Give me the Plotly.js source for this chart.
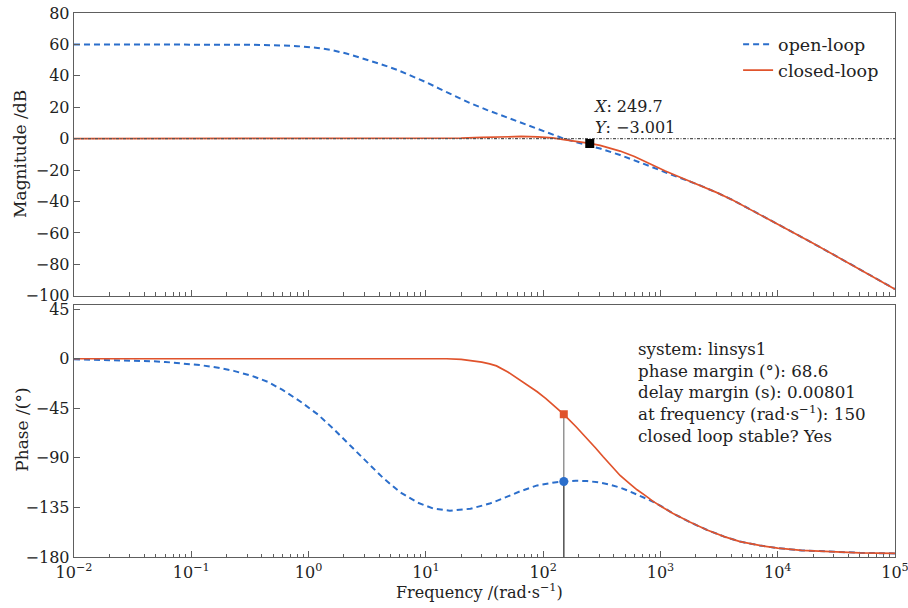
<!DOCTYPE html>
<html>
<head>
<meta charset="utf-8">
<script src="https://cdn.plot.ly/plotly-3.0.1.min.js"></script>
<style>
  html, body { margin: 0; padding: 0; background: #fff; }
  #chart { width: 908px; height: 608px; }
</style>
</head>
<body>
<div id="chart"></div>
<script>
// Open-loop magnitude (dB)
const openMagFreq = [0.01, 0.1, 0.3, 0.5, 0.8, 1.15, 1.53, 2.1, 2.93, 4, 5.7, 7.5, 10, 13, 17.1, 24, 33.4, 45, 63.8, 88, 122, 150, 200, 237, 306, 453, 600, 817, 1100, 1472, 2150, 3000, 4160, 6000, 10000, 20000, 40000, 100000];
const openMag = [60, 60, 59.8, 59.5, 58.9, 57.9, 56.6, 54.2, 51.0, 47.8, 43.8, 40.1, 36.0, 31.9, 27.5, 22.5, 18.2, 14.6, 10.6, 6.8, 2.6, 0, -2.6, -4.0, -6.3, -10.4, -13.6, -17.6, -21.4, -24.8, -29.6, -34.2, -39.2, -45.5, -54.3, -66.6, -79.1, -95.8];

// Closed-loop magnitude (dB)
const closedMagFreq = [0.01, 1, 10, 20, 30, 45, 65, 90, 120, 150, 200, 249.7, 306, 453, 600, 817, 1100, 1472, 2150, 3000, 4160, 6000, 10000, 20000, 40000, 100000];
const closedMag = [0, 0, 0.1, 0.4, 0.8, 1.2, 1.4, 1.2, 0.5, -0.6, -1.8, -3.001, -4.3, -7.9, -11.3, -16.2, -20.6, -24.6, -29.6, -34.2, -39.2, -45.5, -54.3, -66.6, -79.1, -95.8];

// Open-loop phase (deg)
const openPhFreq = [0.01, 0.02, 0.03, 0.045, 0.06, 0.09, 0.12, 0.17, 0.23, 0.33, 0.45, 0.6, 0.85, 1.2, 1.6, 2.3, 3.2, 4.3, 6, 8.5, 11.6, 16, 24, 35, 45, 63.8, 89, 120, 150, 190, 237, 300, 370, 453, 550, 650, 750, 866, 1050, 1283, 1800, 2500, 3500, 4780, 7000, 10000, 16000, 24300, 50000, 100000];
const openPh = [-0.5, -1.0, -1.4, -2.2, -2.9, -4.4, -5.8, -8.2, -11, -15.6, -21, -28.3, -38.8, -50.6, -62.8, -79.5, -94.7, -108, -121, -130.6, -136, -138, -136.2, -131.5, -127, -120.3, -115, -112.5, -111.4, -110.8, -111, -112.3, -114.3, -117, -120.5, -124, -127, -129.8, -134.8, -140.5, -148.5, -155.5, -161.5, -166, -169.5, -172, -174, -175, -176.2, -176.8];

// Closed-loop phase (deg)
const closedPhFreq = [0.01, 1, 10, 15, 20, 25, 30, 35, 40, 50, 63.8, 75, 89, 105, 122, 150, 190, 237, 280, 325, 390, 453, 540, 632, 750, 866, 1050, 1283, 1800, 2500, 3500, 4780, 7000, 10000, 16000, 24300, 50000, 100000];
const closedPh = [0, 0, 0.2, 0, -0.6, -1.6, -3.0, -4.6, -6.5, -12, -19.4, -24.5, -30, -36, -42, -50.5, -61.5, -72.3, -81, -89, -98.5, -106, -113, -119, -124.5, -129.5, -135, -140.5, -148.5, -155.5, -161.5, -166, -169.5, -172, -174, -175, -176.2, -176.8];

// Data tip (-3 dB bandwidth) and stability-margin points
const bwFreq = 249.7, bwMag = -3.001;
const pmFreq = 150, pmOpenPh = -111.4, pmClosedPh = -50.5;
const phaseFloor = -180;

// Axis ticks
const decadeVals = [1e-2, 1e-1, 1e0, 1e1, 1e2, 1e3, 1e4, 1e5];
const decadeText = ['10<sup>−2</sup>', '10<sup>−1</sup>', '10<sup>0</sup>', '10<sup>1</sup>', '10<sup>2</sup>', '10<sup>3</sup>', '10<sup>4</sup>', '10<sup>5</sup>'];
const phaseTicks = [-180, -135, -90, -45, 0, 45];

const minorVals = [];
for (let e = -2; e < 5; e++) for (let m = 2; m <= 9; m++) minorVals.push(m * Math.pow(10, e));

const BLUE = '#2b6ecb';
const RED = '#e0532c';
const AX = '#5e5e5e';

const traces = [
  { x: openMagFreq, y: openMag, xaxis: 'x', yaxis: 'y', mode: 'lines', name: 'open-loop',
    line: { color: BLUE, width: 2, dash: '6px,4px' } },
  { x: closedMagFreq, y: closedMag, xaxis: 'x', yaxis: 'y', mode: 'lines', name: 'closed-loop',
    line: { color: RED, width: 1.7 } },
  { x: [0.01, 100000], y: [0, 0], xaxis: 'x', yaxis: 'y', mode: 'lines', showlegend: false, hoverinfo: 'skip',
    line: { color: '#555', width: 1.2, dash: '3px,1.5px,1px,1.5px' } },
  { x: [bwFreq], y: [bwMag], xaxis: 'x', yaxis: 'y', mode: 'markers', showlegend: false,
    marker: { symbol: 'square', size: 9, color: '#000' } },

  { x: [pmFreq, pmFreq], y: [phaseFloor, pmClosedPh], xaxis: 'x2', yaxis: 'y2', mode: 'lines', showlegend: false, hoverinfo: 'skip',
    line: { color: 'rgba(90,90,90,0.8)', width: 1.2 } },
  { x: [pmFreq, pmFreq], y: [phaseFloor, pmOpenPh], xaxis: 'x2', yaxis: 'y2', mode: 'lines', showlegend: false, hoverinfo: 'skip',
    line: { color: 'rgba(60,60,60,0.8)', width: 1.2 } },
  { x: openPhFreq, y: openPh, xaxis: 'x2', yaxis: 'y2', mode: 'lines', showlegend: false,
    line: { color: BLUE, width: 2, dash: '6px,4px' } },
  { x: closedPhFreq, y: closedPh, xaxis: 'x2', yaxis: 'y2', mode: 'lines', showlegend: false,
    line: { color: RED, width: 1.7 } },
  { x: [pmFreq], y: [pmClosedPh], xaxis: 'x2', yaxis: 'y2', mode: 'markers', showlegend: false,
    marker: { symbol: 'square', size: 8, color: RED } },
  { x: [pmFreq], y: [pmOpenPh], xaxis: 'x2', yaxis: 'y2', mode: 'markers', showlegend: false,
    marker: { symbol: 'circle', size: 9, color: BLUE } }
];

const xCommon = {
  type: 'log', range: [-2, 5], showgrid: false, zeroline: false,
  showline: true, mirror: true, linecolor: AX, linewidth: 1.3,
  tickmode: 'array', tickvals: decadeVals, ticks: 'inside', ticklen: 6, tickcolor: AX, tickwidth: 1,
  ticklabeloverflow: 'allow',
  minor: { tickmode: 'array', tickvals: minorVals, ticks: 'inside', ticklen: 3.5, tickcolor: AX, tickwidth: 1 }
};
const yCommon = {
  showgrid: false, zeroline: false, showline: true, mirror: true, linecolor: AX, linewidth: 1.3,
  ticks: 'inside', ticklen: 6, tickcolor: AX, tickwidth: 1
};

const W = 908, H = 608, ML = 73.5, MR = 13, MT = 12.5, MB = 51;
const PW = W - ML - MR, PH = H - MT - MB;
const px2x = p => (p - ML) / PW;
const py2y = p => (H - MB - p) / PH;

const layout = {
  width: W, height: H,
  margin: { l: ML, r: MR, t: MT, b: MB, pad: 0 },
  paper_bgcolor: '#fff', plot_bgcolor: '#fff',
  font: { family: 'DejaVu Serif, serif', size: 16, color: '#222' },
  showlegend: true,
  legend: { x: px2x(738), y: py2y(26), xanchor: 'left', yanchor: 'top', bgcolor: 'rgba(0,0,0,0)',
            font: { size: 17.5, color: '#222' }, itemwidth: 30, tracegroupgap: 0 },
  xaxis: Object.assign({}, xCommon, { domain: [0, 1], anchor: 'y', showticklabels: false }),
  yaxis: Object.assign({}, yCommon, { domain: [py2y(295.5), 1], range: [-100, 80], tickmode: 'linear', tick0: 0, dtick: 20 }),
  xaxis2: Object.assign({}, xCommon, { domain: [0, 1], anchor: 'y2', matches: 'x', ticktext: decadeText, tickfont: { size: 16 } }),
  yaxis2: Object.assign({}, yCommon, { domain: [0, py2y(305)], range: [-180, 48.6], tickmode: 'array', tickvals: phaseTicks }),
  annotations: [
    { text: 'Magnitude /dB', xref: 'paper', yref: 'paper', x: px2x(20), y: py2y(154),
      xanchor: 'center', yanchor: 'middle', textangle: -90, showarrow: false, font: { size: 17 } },
    { text: 'Phase /(°)', xref: 'paper', yref: 'paper', x: px2x(22), y: py2y(430),
      xanchor: 'center', yanchor: 'middle', textangle: -90, showarrow: false, font: { size: 17 } },
    { text: 'Frequency /(rad·s<sup>−1</sup>)', xref: 'paper', yref: 'paper', x: px2x(479), y: py2y(592),
      xanchor: 'center', yanchor: 'middle', showarrow: false, font: { size: 16 } },
    { text: '<i>X</i>: ' + bwFreq + '<br><i>Y</i>: −' + Math.abs(bwMag).toFixed(3),
      xref: 'paper', yref: 'y', x: (Math.log10(bwFreq) + 2) / 7, y: bwMag,
      xanchor: 'left', yanchor: 'bottom', xshift: 1, yshift: 4, align: 'left', showarrow: false, font: { size: 16 } },
    { text: 'system: linsys1<br>phase margin (°): 68.6<br>delay margin (s): 0.00801<br>at frequency (rad·s<sup>−1</sup>): ' + pmFreq + '<br>closed loop stable? Yes',
      xref: 'paper', yref: 'paper', x: px2x(634), y: py2y(335), xanchor: 'left', yanchor: 'top', align: 'left',
      showarrow: false, bgcolor: '#fff', borderpad: 3, font: { size: 16.7 } }
  ]
};

Plotly.newPlot('chart', traces, layout, { displayModeBar: false, staticPlot: true });
</script>
</body>
</html>
